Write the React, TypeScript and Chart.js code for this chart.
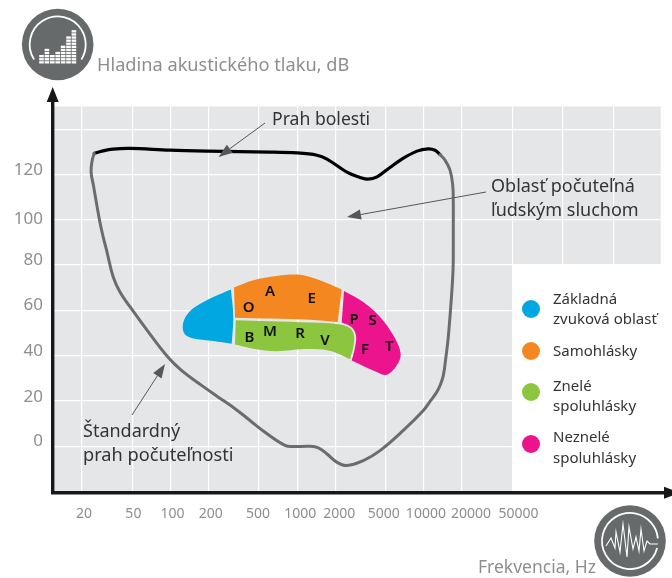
import React, { useEffect, useRef } from "react";
import { Chart, registerables } from "chart.js";

Chart.register(...registerables);

// Frequencies on the axis; the three last ones only carry grid lines
const xTickValues = [20, 50, 100, 200, 500, 1000, 2000, 5000, 10000, 20000, 50000, 125000, 312500];
const xLabelled = [20, 50, 100, 200, 500, 1000, 2000, 5000, 10000, 20000, 50000];
const yLabelled = [0, 20, 40, 60, 80, 100, 120];

const painFreq = [25, 29.3, 35.1, 47.9, 99, 198, 610, 996, 1433, 1719, 2472, 3131, 3620, 4265, 5400, 6844, 8825, 10780, 12240, 13400];
const painDb = [129.3, 130.4, 131.2, 131.5, 130.7, 130.3, 129.9, 129.5, 128.5, 126.8, 121, 118.7, 117.9, 118.9, 123.1, 127.1, 130.3, 131.3, 130.7, 128.8];

const hearingFreq = [13400, 14680, 16080, 16880, 17060, 17060, 17060, 16980, 16580, 15580, 14950, 14240, 13520, 12620, 11180, 9900, 6880, 4505, 3325, 2459, 2050, 1710, 1468, 1262, 931, 801, 557, 424, 323, 237, 176, 122, 93, 67, 48, 39.9, 35.3, 31.3, 29.6, 27.7, 24.6, 23.6, 24.1, 25];
const hearingDb = [128.8, 126.3, 121.9, 115.3, 107.9, 96.8, 85.8, 77.7, 67.5, 48.2, 39.7, 31.3, 27.3, 23.9, 19.8, 15.8, 7, -1.9, -6.3, -8.5, -7, -3.3, -0.7, 0, -0.1, 0.4, 6.2, 11.4, 16.6, 21.8, 26.9, 33.5, 40.1, 50.4, 61.5, 68.1, 74.7, 86.5, 91.8, 99, 115.3, 121.2, 126.3, 129.3];

const basicFreq = [300, 300, 218, 156, 134, 125, 130, 156, 218, 304, 304, 313, 300, 300];
const basicDb = [69.2, 69.2, 65.9, 61.5, 57.8, 53.4, 49.4, 47.5, 46.5, 45.3, 45.3, 57.1, 69.2, 69.2];

const vowelFreq = [317, 317, 450, 689, 991, 1262, 1710, 2245, 2245, 2088, 2088, 1262, 610, 323, 323, 317, 317];
const vowelDb = [70.1, 70.1, 73.3, 75.2, 75.8, 74.7, 72.1, 69.2, 69.2, 54.9, 54.9, 55.9, 56.4, 56.8, 56.8, 70.1, 70.1];

const voicedFreq = [327, 327, 610, 1262, 2178, 2610, 2808, 2772, 2610, 2610, 2110, 1607, 1117, 689, 450, 323, 323, 327, 327];
const voicedDb = [55.6, 55.6, 55.2, 54.6, 53.8, 52.2, 49, 43.8, 38.4, 38.4, 40.9, 42.7, 42.9, 42, 43.1, 44.9, 44.9, 55.6, 55.6];

const unvoicedFreq = [2341, 2341, 3325, 4505, 5736, 6561, 6100, 5086, 4243, 2693, 2693, 2859, 2911, 2693, 2245, 2245, 2341, 2341];
const unvoicedDb = [68.6, 68.6, 63.7, 57.1, 49, 40.9, 35.7, 31.6, 32.8, 37.9, 37.9, 43.5, 49, 52.6, 54.7, 54.7, 68.6, 68.6];

const letters = ["O", "A", "E", "P", "S", "B", "M", "R", "V", "F", "T"];
const letterFreq = [414, 610, 1301, 2808, 3945, 419, 610, 1052, 1658, 3428, 5335];
const letterDb = [61, 68.1, 65.2, 56, 55.3, 47.8, 50.4, 49.7, 46.8, 42.7, 43.8];

const legendColors = ["#00a7e1", "#f58720", "#8cc63f", "#ec148c"];

const FONT = '"Noto Sans", sans-serif';
const GREY = "#6a6d6e";
const LABEL_GREY = "#8c8e90";
const TEXT = "#333436";

const xLabelShift: Record<string, number> = { "20": 2, "50": 1, "100": 2, "200": 2, "500": -1, "1000": 3, "2000": 4, "5000": -2, "10000": 2, "20000": 9, "50000": 6 };
const yLabelShift: Record<string, number> = { "120": -4, "100": -1, "80": -5, "60": -5, "40": -5, "20": -4, "0": -5 };

const pts = (xs: number[], ys: number[]) => xs.map((x, i) => ({ x, y: ys[i] }));

function arrow(ctx: CanvasRenderingContext2D, x0: number, y0: number, x1: number, y1: number) {
  const a = Math.atan2(y1 - y0, x1 - x0);
  const len = 14;
  const bx = x1 - Math.cos(a) * len;
  const by = y1 - Math.sin(a) * len;
  ctx.strokeStyle = "#555759";
  ctx.lineWidth = 1;
  ctx.beginPath();
  ctx.moveTo(x0, y0);
  ctx.lineTo(bx, by);
  ctx.stroke();
  ctx.fillStyle = "#555759";
  ctx.beginPath();
  ctx.moveTo(x1, y1);
  ctx.lineTo(bx - Math.sin(a) * 5, by + Math.cos(a) * 5);
  ctx.lineTo(bx + Math.sin(a) * 5, by - Math.cos(a) * 5);
  ctx.closePath();
  ctx.fill();
}

function text(ctx: CanvasRenderingContext2D, s: string, x: number, y: number, size: number, color: string) {
  ctx.font = `${size}px ${FONT}`;
  ctx.fillStyle = color;
  ctx.textAlign = "left";
  ctx.textBaseline = "middle";
  ctx.fillText(s, x, y);
}

function equalizerIcon(ctx: CanvasRenderingContext2D, cx: number, cy: number) {
  ctx.fillStyle = "#666a6a";
  ctx.beginPath();
  ctx.arc(cx, cy, 35.8, 0, Math.PI * 2);
  ctx.fill();
  ctx.strokeStyle = "#fff";
  ctx.lineWidth = 1.8;
  ctx.beginPath();
  ctx.arc(cx, cy, 28, Math.PI * 0.82, Math.PI * 0.18);
  ctx.stroke();
  const tops = [7, 13, 7, 10, 18, 27, 32];
  ctx.fillStyle = "#fff";
  tops.forEach((h, i) => {
    const x = cx - 18.5 + i * 5.4;
    for (let k = 0; k < h; k += 3.1) {
      ctx.fillRect(x, cy + 19 - k - 2.3, 4.6, 2.3);
    }
  });
}

function waveIcon(ctx: CanvasRenderingContext2D, cx: number, cy: number) {
  ctx.fillStyle = "#666a6a";
  ctx.beginPath();
  ctx.arc(cx, cy, 35.8, 0, Math.PI * 2);
  ctx.fill();
  ctx.strokeStyle = "#fff";
  ctx.lineWidth = 1.8;
  ctx.beginPath();
  ctx.arc(cx, cy, 28, Math.PI * 0.08, Math.PI * 1.97);
  ctx.stroke();
  const wave = [[-24, 5], [-19, -3], [-15, 7], [-14, -9], [-10, 11], [-7, -17], [-3, 16], [-1, -14], [3, 8], [6, -4], [9, 10], [11, -12], [14, 10], [17, 0], [20, 3], [24, 3], [28, 3]];
  ctx.lineWidth = 1.1;
  ctx.beginPath();
  wave.forEach(([dx, dy], i) => (i ? ctx.lineTo(cx + dx, cy + dy) : ctx.moveTo(cx + dx, cy + dy)));
  ctx.stroke();
}

const decor = {
  id: "decor",
  beforeDraw(chart: any) {
    const { ctx, chartArea: a } = chart;
    const { x, y } = chart.scales;
    ctx.save();
    ctx.fillStyle = "#fff";
    ctx.fillRect(0, 0, chart.width, chart.height);
    ctx.fillStyle = "#e5e6e8";
    ctx.fillRect(a.left, a.top, a.width, a.height);
    ctx.restore();
    const xItems = x.getLabelItems();
    if (!xItems.__shifted) {
      xItems.__shifted = true;
      xItems.forEach((it: any) => { it.options.translation[0] += xLabelShift[it.label] || 0; });
    }
    const yItems = y.getLabelItems();
    if (!yItems.__shifted) {
      yItems.__shifted = true;
      yItems.forEach((it: any) => { it.options.translation[1] += yLabelShift[it.label] || 0; });
    }
  },
  beforeDatasetsDraw(chart: any) {
    const { ctx, chartArea: a } = chart;
    const { x, y } = chart.scales;
    const rightPanel = x.getPixelForValue(50000);
    const legendTop = y.getPixelForValue(80);
    ctx.save();
    ctx.fillStyle = "#fff";
    ctx.fillRect(rightPanel, legendTop, a.right - rightPanel + 1, a.bottom - legendTop + 1);
    ctx.restore();
  },
  afterDatasetsDraw(chart: any) {
    const { ctx } = chart;
    const { x, y } = chart.scales;
    ctx.save();
    // axes with arrow heads
    ctx.strokeStyle = "#17181a";
    ctx.fillStyle = "#17181a";
    ctx.lineWidth = 3.4;
    ctx.beginPath();
    ctx.moveTo(52.7, 492.8);
    ctx.lineTo(52.7, 100);
    ctx.moveTo(51, 492.8);
    ctx.lineTo(668, 492.8);
    ctx.stroke();
    ctx.beginPath();
    ctx.moveTo(52.7, 87);
    ctx.lineTo(46.7, 102);
    ctx.lineTo(58.7, 102);
    ctx.closePath();
    ctx.moveTo(680, 492.8);
    ctx.lineTo(664, 486.8);
    ctx.lineTo(664, 498.8);
    ctx.closePath();
    ctx.fill();

    // letters in the speech banana
    ctx.font = `600 15px ${FONT}`;
    ctx.fillStyle = "#111";
    ctx.textAlign = "center";
    ctx.textBaseline = "middle";
    letters.forEach((l, i) => {
      ctx.fillText(l, x.getPixelForValue(letterFreq[i]), y.getPixelForValue(letterDb[i]));
    });

    // annotation arrows and texts
    arrow(ctx, 265, 123, 218.5, 157);
    arrow(ctx, 486, 192, 347, 217);
    arrow(ctx, 132, 415, 165, 364);
    text(ctx, "Prah bolesti", 272, 120, 17.6, TEXT);
    text(ctx, "Oblasť počuteľná", 491, 187, 18, TEXT);
    text(ctx, "ľudským sluchom", 491, 211, 18, TEXT);
    text(ctx, "Štandardný", 83, 432, 18, TEXT);
    text(ctx, "prah počuteľnosti", 83, 456, 18.2, TEXT);

    // axis captions
    text(ctx, "Hladina akustického tlaku, dB", 97, 66, 18.2, LABEL_GREY);
    text(ctx, "Frekvencia, Hz", 478, 568, 17.5, LABEL_GREY);

    // legend
    const legendY = [309, 351, 392, 444];
    legendColors.forEach((c, i) => {
      ctx.fillStyle = c;
      ctx.beginPath();
      ctx.arc(531, legendY[i], 9, 0, Math.PI * 2);
      ctx.fill();
    });
    text(ctx, "Základná", 553, 300, 15, TEXT);
    text(ctx, "zvuková oblasť", 553, 320, 15, TEXT);
    text(ctx, "Samohlásky", 553, 352, 15, TEXT);
    text(ctx, "Znelé", 553, 387, 15, TEXT);
    text(ctx, "spoluhlásky", 553, 407, 15, TEXT);
    text(ctx, "Neznelé", 553, 438, 15, TEXT);
    text(ctx, "spoluhlásky", 553, 459, 15, TEXT);

    equalizerIcon(ctx, 57.7, 44.5);
    waveIcon(ctx, 630, 541);
    ctx.restore();
  },
};

export default function App() {
  const ref = useRef<HTMLCanvasElement>(null);
  useEffect(() => {
    const area = (label: string, xs: number[], ys: number[], color: string) => ({
      label,
      data: pts(xs, ys),
      showLine: true,
      fill: "shape",
      backgroundColor: color,
      borderColor: color,
      borderWidth: 0,
      tension: 0.35,
      pointRadius: 0,
    });
    const chart = new Chart(ref.current as HTMLCanvasElement, {
      type: "scatter",
      data: {
        datasets: [
          area("Základná zvuková oblasť", basicFreq, basicDb, legendColors[0]),
          area("Samohlásky", vowelFreq, vowelDb, legendColors[1]),
          area("Znelé spoluhlásky", voicedFreq, voicedDb, legendColors[2]),
          area("Neznelé spoluhlásky", unvoicedFreq, unvoicedDb, legendColors[3]),
          {
            label: "Štandardný prah počuteľnosti",
            data: pts(hearingFreq, hearingDb),
            showLine: true,
            fill: false,
            borderColor: GREY,
            borderWidth: 3,
            borderCapStyle: "round",
            tension: 0.4,
            pointRadius: 0,
          },
          {
            label: "Prah bolesti",
            data: pts(painFreq, painDb),
            showLine: true,
            fill: false,
            borderColor: "#000",
            borderWidth: 3.2,
            borderCapStyle: "round",
            tension: 0.35,
            pointRadius: 0,
          },
        ],
      } as any,
      options: {
        animation: false,
        responsive: false,
        layout: { autoPadding: false, padding: { top: 106.5, right: 11.3, left: 0, bottom: 0 } },
        plugins: { legend: { display: false }, tooltip: { enabled: false }, title: { display: false } },
        scales: {
          x: {
            type: "logarithmic",
            min: 12.03,
            max: 740000,
            afterBuildTicks(scale: any) {
              scale.ticks = xTickValues.map((value) => ({ value }));
            },
            afterFit(scale: any) {
              scale.height = 86.4;
            },
            border: { display: false },
            grid: { color: "#fff", lineWidth: 1.2, drawTicks: false },
            ticks: {
              autoSkip: false,
              maxRotation: 0,
              minRotation: 0,
              padding: 14,
              color: LABEL_GREY,
              font: { family: FONT, size: 14 },
              callback: (v: any) => (xLabelled.includes(Number(v)) ? String(v) : ""),
            },
          },
          y: {
            type: "linear",
            min: -20,
            max: 150,
            afterFit(scale: any) {
              scale.width = 54;
            },
            border: { display: false },
            grid: { color: "#fff", lineWidth: 1.2, drawTicks: false },
            ticks: {
              stepSize: 10,
              padding: 11,
              color: LABEL_GREY,
              font: { family: FONT, size: 17 },
              callback: (v: any) => (yLabelled.includes(Number(v)) ? String(v) : ""),
            },
          },
        },
      } as any,
      plugins: [decor],
    });
    return () => chart.destroy();
  }, []);
  return (
    <div style={{ position: "absolute", left: 0, top: 0, width: 672, height: 578 }}>
      <canvas ref={ref} width={672} height={578} style={{ display: "block" }} />
    </div>
  );
}
